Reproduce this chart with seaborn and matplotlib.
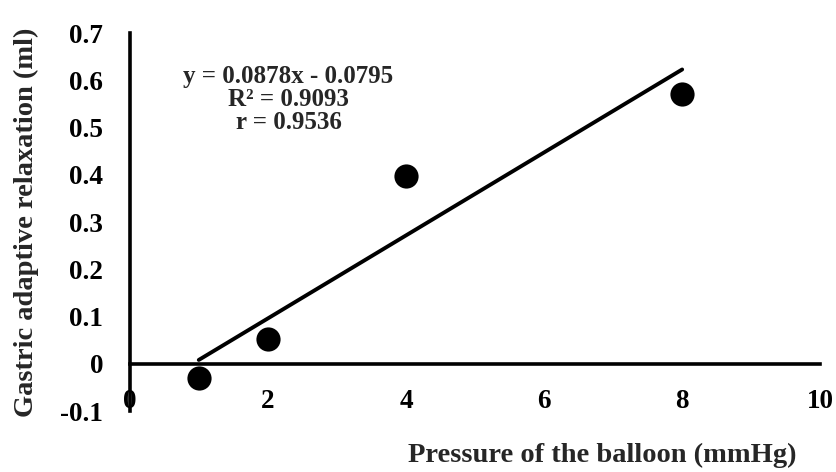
import numpy as np
import pandas as pd
import matplotlib
matplotlib.use('Agg')
import matplotlib.pyplot as plt
import seaborn as sns

# data
pressure   = [1, 2, 4, 8]
relaxation = [-0.03, 0.053, 0.397, 0.570]

# trendline as printed on the chart
slope, intercept = 0.0878, -0.0795
eq_lines = ["y = 0.0878x - 0.0795", "R² = 0.9093", "r = 0.9536"]

x_ticks = [0, 2, 4, 6, 8, 10]
y_ticks = [-0.1, 0, 0.1, 0.2, 0.3, 0.4, 0.5, 0.6, 0.7]
y_tick_labels = ["-0.1", "0", "0.1", "0.2", "0.3", "0.4", "0.5", "0.6", "0.7"]

sns.set_style('white')
plt.rcParams['font.family'] = ['Liberation Serif', 'DejaVu Serif']
plt.rcParams['font.weight'] = 'bold'

df = pd.DataFrame({'pressure': pressure, 'relaxation': relaxation})
fit_x = np.array([min(pressure), max(pressure)], dtype=float)
fit = pd.DataFrame({'x': fit_x, 'y': slope * fit_x + intercept})

fig = plt.figure(figsize=(8.37, 4.72), dpi=100)
ax = fig.add_axes([0.155, 0.129, 0.825, 0.801])

sns.lineplot(data=fit, x='x', y='y', ax=ax, color='black', lw=2.8)
sns.scatterplot(data=df, x='pressure', y='relaxation', ax=ax,
                color='black', s=260, edgecolor='black', zorder=3)

ax.set_xlim(0, 10)
ax.set_ylim(-0.1, 0.7)
ax.set_xticks(x_ticks)
ax.set_yticks(y_ticks)
ax.set_yticklabels(y_tick_labels)
ax.set_xlabel('')
ax.set_ylabel('')

for s in ['top', 'right']:
    ax.spines[s].set_visible(False)
ax.spines['bottom'].set_position(('data', 0))
for s in ['left', 'bottom']:
    ax.spines[s].set_linewidth(2.6)
    ax.spines[s].set_color('black')

# x ticks hang below the zero line, y ticks point into the plot
ax.tick_params(axis='x', direction='out', length=5, width=2.6, pad=13,
               labelsize=19.5, colors='black')
ax.tick_params(axis='y', direction='in', length=5, width=2.6, pad=19,
               labelsize=19.5, colors='black')
for lab in ax.get_xticklabels() + ax.get_yticklabels():
    lab.set_fontweight('bold')

ax.text(2.3, 0.56, "\n".join(eq_lines), ha='center', va='center',
        multialignment='center', fontsize=18, fontweight='bold', linespacing=1.0)

fig.text(0.72, 0.036, 'Pressure of the balloon (mmHg)', ha='center', va='center',
         fontsize=20.5, fontweight='bold')
fig.text(0.032, 0.53, 'Gastric adaptive relaxation (ml)', ha='center', va='center',
         rotation=90, fontsize=20.5, fontweight='bold')

fig.savefig('out.png', dpi=100)
